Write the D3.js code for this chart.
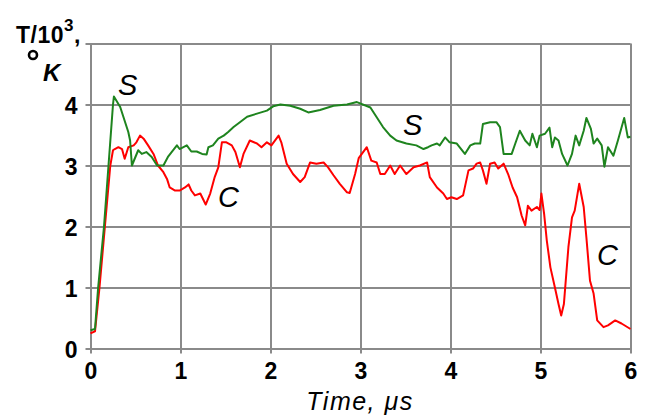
<!DOCTYPE html>
<meta charset="utf-8">
<style>
  body { margin: 0; background: #fff; }
  svg text { font-family: "Liberation Sans", Arial, sans-serif; fill: #000; }
  .axis text { font-size: 23px; font-weight: bold; }
  .axis line { stroke: #8a8a8a; stroke-width: 2; }
  .axis path { display: none; }
  .series { fill: none; stroke-width: 2; stroke-linejoin: round; }
</style>
<body>
<svg id="chart" width="646" height="417"></svg>
</body>
<script src="https://cdnjs.cloudflare.com/ajax/libs/d3/7.8.5/d3.min.js"></script>
<script>
  // S curve (green)
  const sTime = [0, 0.05, 0.085, 0.15, 0.2, 0.25, 0.26, 0.33, 0.42, 0.44, 0.46, 0.53, 0.57, 0.62, 0.68, 0.74, 0.81, 0.86, 0.96, 0.99,
    1.07, 1.12, 1.18, 1.24, 1.29, 1.31, 1.36, 1.42, 1.48, 1.53, 1.59, 1.66, 1.74, 1.85, 1.96, 2.03, 2.11, 2.22, 2.33, 2.42,
    2.55, 2.70, 2.85, 2.96, 3.11, 3.18, 3.25, 3.33, 3.40, 3.51, 3.62, 3.70, 3.75, 3.79, 3.85, 3.88, 3.94, 3.99, 4.07, 4.16,
    4.22, 4.27, 4.33, 4.36, 4.44, 4.51, 4.55, 4.59, 4.68, 4.72, 4.77, 4.83, 4.88, 4.91, 4.96, 4.99, 5.05, 5.10, 5.13, 5.16,
    5.20, 5.24, 5.30, 5.35, 5.39, 5.43, 5.48, 5.51, 5.56, 5.59, 5.63, 5.68, 5.71, 5.75, 5.81, 5.86, 5.93, 5.97, 6.0]
  const sTemp = [0.3, 0.32, 1.0, 2.0, 3.0, 4.0, 4.13, 3.96, 3.55, 3.41, 3.0, 3.25, 3.19, 3.22, 3.14, 3.0, 3.0, 3.14, 3.33, 3.27,
    3.33, 3.23, 3.23, 3.19, 3.18, 3.3, 3.33, 3.44, 3.49, 3.55, 3.63, 3.71, 3.8, 3.85, 3.9, 3.97, 4.0, 3.98, 3.93, 3.87,
    3.91, 3.98, 4.0, 4.04, 3.95, 3.79, 3.63, 3.49, 3.41, 3.36, 3.33, 3.27, 3.3, 3.33, 3.36, 3.33, 3.46, 3.38, 3.36, 3.19,
    3.33, 3.36, 3.36, 3.68, 3.71, 3.71, 3.63, 3.19, 3.19, 3.36, 3.57, 3.41, 3.33, 3.52, 3.3, 3.49, 3.52, 3.62, 3.3, 3.46,
    3.41, 3.19, 3.0, 3.19, 3.49, 3.33, 3.57, 3.78, 3.6, 3.36, 3.44, 3.33, 2.98, 3.3, 3.16, 3.41, 3.78, 3.46, 3.47]

  // C curve (red)
  const cTime = [0, 0.05, 0.1, 0.16, 0.22, 0.25, 0.27, 0.31, 0.35, 0.38, 0.42, 0.48, 0.51, 0.55, 0.59, 0.64, 0.70, 0.75, 0.81, 0.85,
    0.88, 0.94, 0.99, 1.05, 1.09, 1.12, 1.16, 1.22, 1.28, 1.33, 1.38, 1.42, 1.46, 1.51, 1.57, 1.61, 1.66, 1.70, 1.77, 1.85,
    1.90, 1.96, 2.01, 2.09, 2.12, 2.18, 2.25, 2.33, 2.38, 2.44, 2.51, 2.59, 2.64, 2.70, 2.77, 2.85, 2.88, 2.94, 2.98, 3.07,
    3.12, 3.18, 3.22, 3.27, 3.33, 3.38, 3.44, 3.51, 3.59, 3.66, 3.74, 3.77, 3.85, 3.92, 3.96, 4.01, 4.07, 4.14, 4.20, 4.25,
    4.29, 4.33, 4.36, 4.40, 4.44, 4.49, 4.53, 4.59, 4.64, 4.69, 4.74, 4.79, 4.83, 4.86, 4.90, 4.96, 4.99, 5.01, 5.04, 5.07,
    5.11, 5.16, 5.20, 5.23, 5.26, 5.31, 5.35, 5.38, 5.43, 5.48, 5.51, 5.55, 5.59, 5.63, 5.70, 5.75, 5.83, 5.90, 6.0]
  const cTemp = [0.25, 0.28, 1.0, 2.0, 3.0, 3.25, 3.27, 3.3, 3.27, 3.11, 3.3, 3.33, 3.38, 3.49, 3.44, 3.33, 3.19, 3.0, 2.89, 2.78,
    2.64, 2.59, 2.59, 2.64, 2.69, 2.59, 2.51, 2.54, 2.36, 2.54, 2.81, 2.97, 3.38, 3.38, 3.33, 3.22, 2.97, 3.19, 3.41, 3.36,
    3.3, 3.38, 3.33, 3.49, 3.38, 3.03, 2.86, 2.73, 2.81, 3.05, 3.03, 3.05, 2.97, 2.84, 2.7, 2.56, 2.55, 2.86, 3.12, 3.3,
    3.08, 3.05, 2.86, 2.86, 3.0, 2.86, 3.0, 2.86, 2.97, 3.0, 3.05, 2.81, 2.64, 2.54, 2.45, 2.48, 2.45, 2.51, 2.92, 2.95,
    3.03, 3.05, 2.92, 2.7, 3.03, 3.05, 2.95, 3.03, 2.86, 2.64, 2.48, 2.18, 2.02, 2.34, 2.26, 2.32, 2.27, 2.54, 2.21, 1.77,
    1.33, 1.0, 0.73, 0.54, 0.73, 1.66, 2.15, 2.26, 2.7, 2.32, 1.82, 1.11, 0.9, 0.46, 0.35, 0.38, 0.46, 0.41, 0.32]

  const xTicks = [0, 1, 2, 3, 4, 5, 6]
  const yTicks = [0, 1, 2, 3, 4, 5]
  const yTickLabels = ['0', '1', '2', '3', '4', '']

  const svg = d3.select('#chart')
  const [ plotL, plotR, plotT, plotB ] = [ 90.5, 630.5, 43.5, 348.5 ]

  const x = d3.scaleLinear().domain([0, 6]).range([plotL, plotR])
  const y = d3.scaleLinear().domain([0, 5]).range([plotB, plotT])

  // grid + ticks
  const gx = svg.append('g')
      .attr('class', 'axis')
      .attr('transform', `translate(0,${plotB})`)
      .call(d3.axisBottom(x).tickValues(xTicks).tickSize(-(plotB - plotT)).tickPadding(14).tickFormat(d3.format('d')))
  gx.selectAll('line').attr('y1', 5)

  const gy = svg.append('g')
      .attr('class', 'axis')
      .attr('transform', `translate(${plotL},0)`)
      .call(d3.axisLeft(y).tickValues(yTicks).tickSize(-(plotR - plotL)).tickPadding(13).tickFormat((d, i) => yTickLabels[i]))
  gy.selectAll('line').attr('x1', -5)
  gy.selectAll('text').attr('dy', '0.38em')

  const line = d3.line().x(d => x(d[0])).y(d => y(d[1]))

  svg.append('path')
      .attr('class', 'series')
      .attr('stroke', '#ff0000')
      .attr('d', line(d3.zip(cTime, cTemp)))

  svg.append('path')
      .attr('class', 'series')
      .attr('stroke', '#1e841e')
      .attr('d', line(d3.zip(sTime, sTemp)))

  // curve labels
  const labels = [
    { t: 'S', px: 118, py: 95 },
    { t: 'C', px: 218, py: 207 },
    { t: 'S', px: 403, py: 135 },
    { t: 'C', px: 597, py: 265 }
  ]
  svg.selectAll('.lbl')
    .data(labels)
    .enter().append('text')
      .attr('class', 'lbl')
      .attr('x', d => d.px)
      .attr('y', d => d.py)
      .style('font-size', '29px')
      .style('font-style', 'italic')
      .text(d => d.t)

  // y axis title
  const title = svg.append('text')
      .attr('x', 16)
      .attr('y', 43)
      .style('font-size', '23px')
      .style('font-weight', 'bold')
      .style('letter-spacing', '0.5px')
  title.append('tspan').text('T/10')
  title.append('tspan').attr('dy', -12).style('font-size', '17px').text('3')
  title.append('tspan').attr('dy', 12).text(',')

  svg.append('circle')
      .attr('cx', 33)
      .attr('cy', 55)
      .attr('r', 4)
      .attr('fill', 'none')
      .attr('stroke', '#000')
      .attr('stroke-width', 2.6)
  svg.append('text')
      .attr('x', 43)
      .attr('y', 81)
      .style('font-size', '24px')
      .style('font-weight', 'bold')
      .style('font-style', 'italic')
      .text('K')

  // x axis title
  svg.append('text')
      .attr('x', 360)
      .attr('y', 410)
      .attr('text-anchor', 'middle')
      .style('font-size', '25px')
      .style('font-style', 'italic')
      .style('letter-spacing', '1.5px')
      .text('Time, μs')
</script>
